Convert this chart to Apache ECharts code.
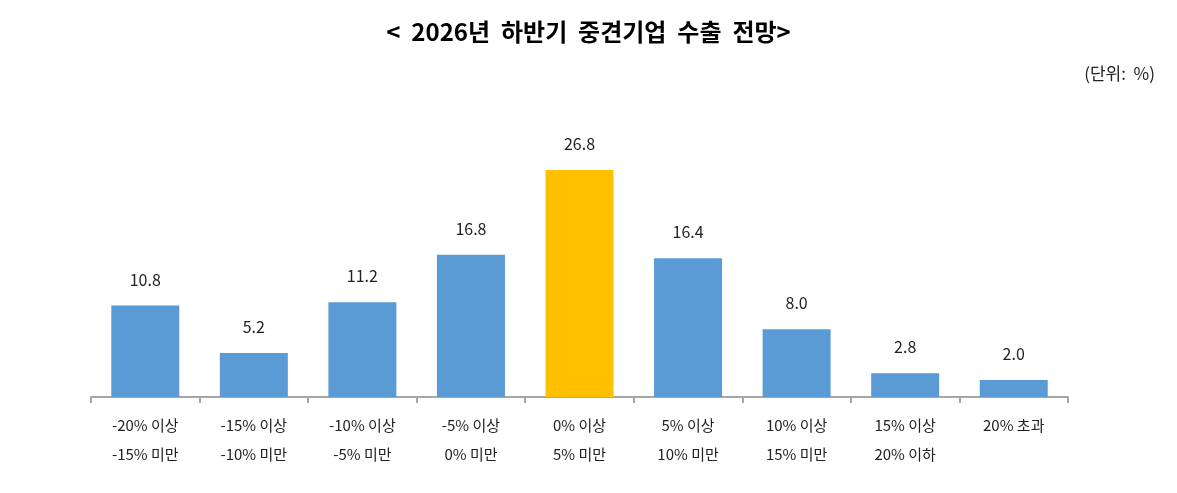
<!DOCTYPE html>
<html><head><meta charset="utf-8">
<script src="https://cdn.jsdelivr.net/npm/echarts@6/dist/echarts.min.js"></script>
<style>html,body{margin:0;background:#fff}#container{width:1177px;height:493px}</style>
</head><body><div id="container"></div>
<script>
var categories = ['-20% 이상\n-15% 미만','-15% 이상\n-10% 미만','-10% 이상\n-5% 미만','-5% 이상\n0% 미만','0% 이상\n5% 미만','5% 이상\n10% 미만','10% 이상\n15% 미만','15% 이상\n20% 이하','20% 초과'];
var values = [10.8, 5.2, 11.2, 16.8, 26.8, 16.4, 8.0, 2.8, 2.0];
var highlightIndex = 4;

var myChart = echarts.init(document.getElementById('container'));
var font = '"Noto Sans CJK KR", sans-serif';

var option = {
  backgroundColor: '#fff',
  title: [{
    text: '<  2026년  하반기  중견기업  수출  전망>',
    left: 'center', top: 15,
    textStyle: {fontFamily: font, fontSize: 24, fontWeight: 'bold', color: '#000'}
  }, {
    text: '(단위:  %)',
    right: 17, top: 60,
    textStyle: {fontFamily: font, fontSize: 17, fontWeight: 'normal', color: '#222'}
  }],
  grid: {left: 91, right: 109, top: 143, bottom: 96},
  xAxis: {
    type: 'category',
    data: categories,
    axisLine: {lineStyle: {color: '#a6a6a6', width: 2}},
    axisTick: {show: true, length: 6, lineStyle: {color: '#a6a6a6', width: 2}},
    axisLabel: {fontFamily: font, fontSize: 15, color: '#222', lineHeight: 29, margin: 14, interval: 0}
  },
  yAxis: {type: 'value', min: 0, max: 30, show: false},
  series: [{
    type: 'bar',
    barWidth: 68,
    data: values.map(function (v, i) {
      return {value: v, itemStyle: {color: i === highlightIndex ? '#ffc000' : '#5b9bd5'}};
    }),
    label: {
      show: true, position: 'top', distance: 18,
      fontFamily: font, fontSize: 16, color: '#222',
      formatter: function (p) { return p.value.toFixed(1); }
    }
  }]
};
myChart.setOption(option);
</script></body></html>
